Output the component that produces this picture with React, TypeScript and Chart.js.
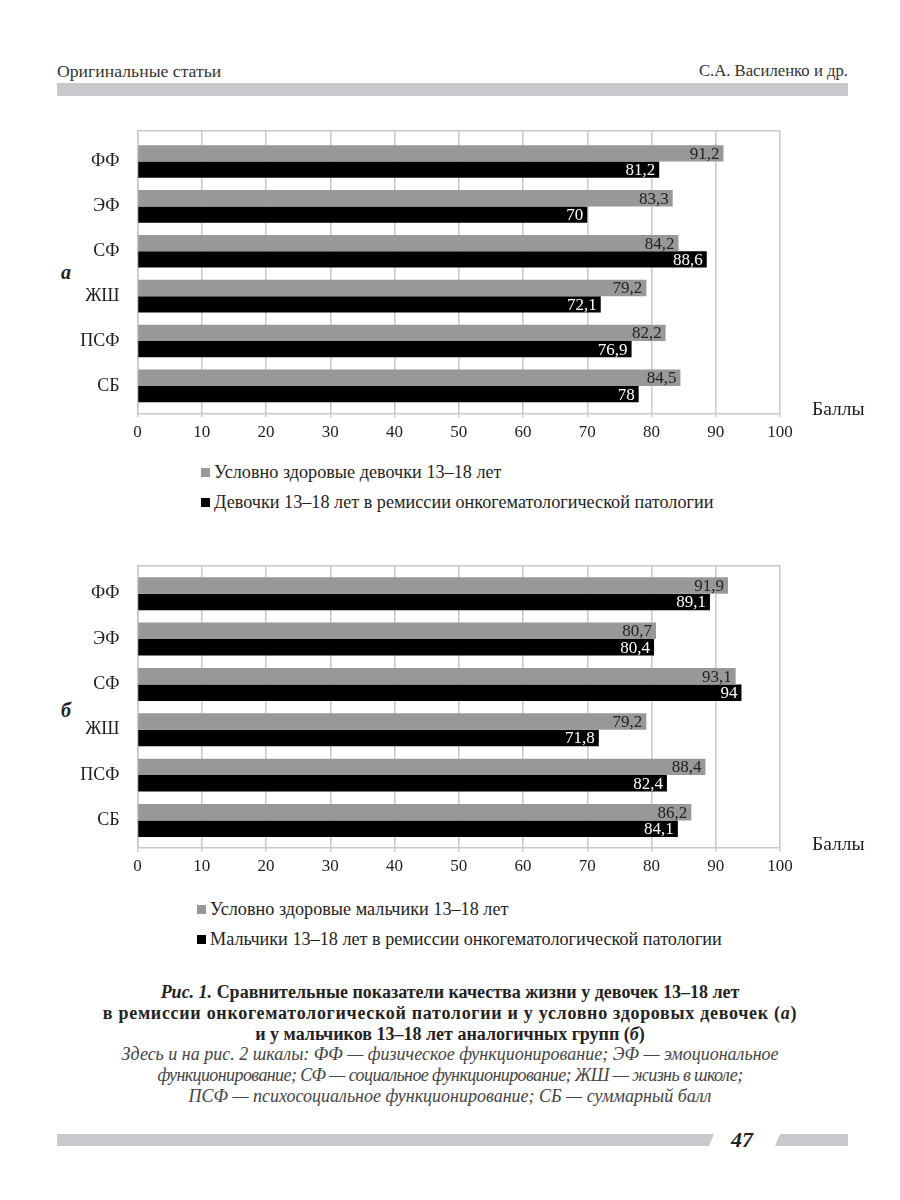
import React, { useEffect, useRef } from 'react';
import { Chart, registerables } from 'chart.js';

Chart.register(...registerables);

const categories = ['ФФ', 'ЭФ', 'СФ', 'ЖШ', 'ПСФ', 'СБ'];
const xTickStep = 10;
const xMin = 0;
const xMax = 100;
const girlsHealthy = [91.2, 83.3, 84.2, 79.2, 82.2, 84.5];
const girlsRemission = [81.2, 70, 88.6, 72.1, 76.9, 78];
const boysHealthy = [91.9, 80.7, 93.1, 79.2, 88.4, 86.2];
const boysRemission = [89.1, 80.4, 94, 71.8, 82.4, 84.1];
const legendGirls = [
  'Условно здоровые девочки 13–18 лет',
  'Девочки 13–18 лет в ремиссии онкогематологической патологии',
];
const legendBoys = [
  'Условно здоровые мальчики 13–18 лет',
  'Мальчики 13–18 лет в ремиссии онкогематологической патологии',
];
const axisUnit = 'Баллы';

const SERIF = '"Liberation Serif"';
const GRAY = '#989898';
const GRID = '#c8c8c8';
const TEXT = '#1e1e1e';

const fmt = (v: number) => String(v).replace('.', ',');

type ChartProps = {
  top: number;
  height: number;
  areaTop: number;
  areaBottom: number;
  yMin: number;
  yMax: number;
  series: number[][];
  names: string[];
};

function BarPanel({ top, height, areaTop, areaBottom, yMin, yMax, series, names }: ChartProps) {
  const ref = useRef<HTMLCanvasElement | null>(null);
  useEffect(() => {
    if (!ref.current) return;
    const colors = [GRAY, '#000000'];
    const labelColors = ['#222222', '#ffffff'];
    const valueLabels = {
      id: 'valueLabels',
      afterDatasetsDraw(chart: any) {
        const ctx = chart.ctx;
        ctx.save();
        ctx.font = `17px ${SERIF}`;
        ctx.textAlign = 'right';
        ctx.textBaseline = 'middle';
        chart.data.datasets.forEach((ds: any, di: number) => {
          const meta = chart.getDatasetMeta(di);
          ctx.fillStyle = labelColors[di];
          meta.data.forEach((bar: any, i: number) => {
            ctx.fillText(fmt(ds.data[i].x), bar.x - 4, bar.y + 1);
          });
        });
        ctx.restore();
      },
    };
    const frame = {
      id: 'frame',
      beforeDatasetsDraw(chart: any) {
        const { ctx, chartArea } = chart;
        ctx.save();
        ctx.strokeStyle = GRID;
        ctx.lineWidth = 1.5;
        ctx.beginPath();
        ctx.moveTo(chartArea.left, chartArea.top);
        ctx.lineTo(chartArea.right, chartArea.top);
        ctx.stroke();
        ctx.restore();
      },
    };
    const chart = new Chart(ref.current, {
      type: 'bar',
      data: {
        datasets: series.map((vals, di) => ({
          label: names[di],
          data: vals.map((v, i) => ({ x: v, y: i })),
          backgroundColor: colors[di],
          categoryPercentage: 0.727,
          barPercentage: 1,
        })) as any,
      },
      options: {
        indexAxis: 'y',
        animation: false,
        responsive: false,
        layout: { padding: { left: 0, right: 120, top: areaTop, bottom: 0 } },
        plugins: { legend: { display: false }, tooltip: { enabled: false } },
        scales: {
          x: {
            type: 'linear',
            min: xMin,
            max: xMax,
            ticks: { stepSize: xTickStep, font: { family: SERIF, size: 17 }, color: TEXT, padding: 5 },
            grid: { color: GRID, lineWidth: 1.5, tickLength: 4 },
            border: { color: GRID, width: 1.5 },
            afterFit: (s: any) => {
              s.height = height - areaBottom;
            },
          },
          y: {
            type: 'linear',
            reverse: true,
            offset: false,
            min: yMin,
            max: yMax,
            afterBuildTicks: (s: any) => {
              s.ticks = categories.map((_, i) => ({ value: i }));
            },
            ticks: {
              callback: (v: any) => categories[v as number] ?? '',
              font: { family: SERIF, size: 18 },
              color: TEXT,
              padding: 10,
            },
            grid: { display: false },
            border: { color: GRID, width: 1.5 },
            afterFit: (s: any) => {
              s.width = 137.5;
            },
          },
        },
      } as any,
      plugins: [frame, valueLabels],
    });
    return () => chart.destroy();
  }, []);
  return (
    <canvas
      ref={ref}
      width={900}
      height={height}
      style={{ position: 'absolute', left: 0, top, width: 900, height }}
    />
  );
}

type TProps = { style?: React.CSSProperties; children?: React.ReactNode };
const T = ({ style, children }: TProps) => (
  <span className="srf" style={{ whiteSpace: 'nowrap', ...style }}>{children}</span>
);
const Line = ({ style, children }: TProps) => (
  <div className="srf" style={{ whiteSpace: 'nowrap', ...style }}>{children}</div>
);

function Legend({ top, left, names }: { top: number; left: number; names: string[] }) {
  const colors = [GRAY, '#000000'];
  return (
    <div className="srf" style={{ position: 'absolute', top, left }}>
      {names.map((n, i) => (
        <div key={i} className="srf" style={{ height: 30, display: 'flex', alignItems: 'center' }}>
          <span style={{ display: 'inline-block', width: 9, height: 9, background: colors[i], marginRight: 4 }} />
          <T style={{ fontSize: 18.2, color: TEXT, lineHeight: '30px' }}>{n}</T>
        </div>
      ))}
    </div>
  );
}

export default function App() {
  const rootRef = useRef<HTMLDivElement | null>(null);
  useEffect(() => {
    const root = rootRef.current;
    if (!root) return;
    root.querySelectorAll<HTMLElement>('.srf').forEach((el) => {
      el.style.setProperty('font-family', SERIF, 'important');
    });
  }, []);
  const abs = (style: React.CSSProperties): React.CSSProperties => ({ position: 'absolute', ...style });
  const capB: React.CSSProperties = { fontSize: 18, fontWeight: 'bold', color: '#222' };
  const capI: React.CSSProperties = { fontSize: 18, fontStyle: 'italic', color: '#444' };
  return (
    <div ref={rootRef} className="srf" style={{ position: 'absolute', left: 0, top: 0, width: 900, height: 1200, background: '#fff', overflow: 'hidden' }}>
      {/* header */}
      <div className="srf" style={abs({ left: 57, top: 61, lineHeight: '20px' })}><T style={{ fontSize: 17.7, color: '#333' }}>Оригинальные статьи</T></div>
      <div className="srf" style={abs({ right: 52, top: 61, lineHeight: '20px' })}><T style={{ fontSize: 16.7, color: '#333' }}>С.А. Василенко и др.</T></div>
      <div style={abs({ left: 57, top: 83, width: 791, height: 13, background: '#c8c9cc' })} />

      {/* panel a */}
      <div className="srf" style={abs({ left: 61, top: 260, lineHeight: '24px' })}><T style={{ fontSize: 20, fontWeight: 'bold', fontStyle: 'italic', color: TEXT }}>а</T></div>
      <BarPanel
        top={110}
        height={340}
        areaTop={14.3}
        areaBottom={303.3}
        yMin={-0.684}
        yMax={5.61}
        series={[girlsHealthy, girlsRemission]}
        names={legendGirls}
      />
      <div className="srf" style={abs({ left: 812, top: 398, lineHeight: '22px' })}><T style={{ fontSize: 19.5, color: TEXT }}>{axisUnit}</T></div>
      <Legend top={457} left={201} names={legendGirls} />

      {/* panel b */}
      <div className="srf" style={abs({ left: 61, top: 698, lineHeight: '24px' })}><T style={{ fontSize: 20, fontWeight: 'bold', fontStyle: 'italic', color: TEXT }}>б</T></div>
      <BarPanel
        top={545}
        height={340}
        areaTop={16}
        areaBottom={302.7}
        yMin={-0.614}
        yMax={5.6}
        series={[boysHealthy, boysRemission]}
        names={legendBoys}
      />
      <div className="srf" style={abs({ left: 812, top: 833, lineHeight: '22px' })}><T style={{ fontSize: 19.5, color: TEXT }}>{axisUnit}</T></div>
      <Legend top={894} left={197} names={legendBoys} />

      {/* caption */}
      <div className="srf" style={abs({ left: 0, top: 982, width: 900, textAlign: 'center', lineHeight: '20px' })}>
        <Line><T style={capB}><i className="srf">Рис. 1.</i> Сравнительные показатели качества жизни у девочек 13–18 лет</T></Line>
        <Line><T style={{ ...capB, letterSpacing: '0.7px' }}>в ремиссии онкогематологической патологии и у условно здоровых девочек (<i className="srf">а</i>)</T></Line>
        <Line><T style={capB}>и у мальчиков 13–18 лет аналогичных групп (<i className="srf">б</i>)</T></Line>
      </div>
      <div className="srf" style={abs({ left: 0, top: 1044, width: 900, textAlign: 'center', lineHeight: '20px' })}>
        <Line><T style={capI}>Здесь и на рис. 2 шкалы: ФФ — физическое функционирование; ЭФ — эмоциональное</T></Line>
        <Line><T style={{ ...capI, letterSpacing: '-0.6px' }}>функционирование; СФ — социальное функционирование; ЖШ — жизнь в школе;</T></Line>
        <Line><T style={capI}>ПСФ — психосоциальное функционирование; СБ — суммарный балл</T></Line>
      </div>

      {/* footer */}
      <div style={abs({ left: 57, top: 1134, width: 657, height: 12, background: '#c8c9cc', clipPath: 'polygon(0 0, 100% 0, calc(100% - 5px) 100%, 0 100%)' })} />
      <div className="srf" style={abs({ left: 731, top: 1127, lineHeight: '26px' })}><T style={{ fontSize: 22, fontWeight: 'bold', fontStyle: 'italic', color: '#222' }}>47</T></div>
      <div style={abs({ left: 775, top: 1134, width: 73, height: 12, background: '#c8c9cc', clipPath: 'polygon(5px 0, 100% 0, 100% 100%, 0 100%)' })} />
    </div>
  );
}
